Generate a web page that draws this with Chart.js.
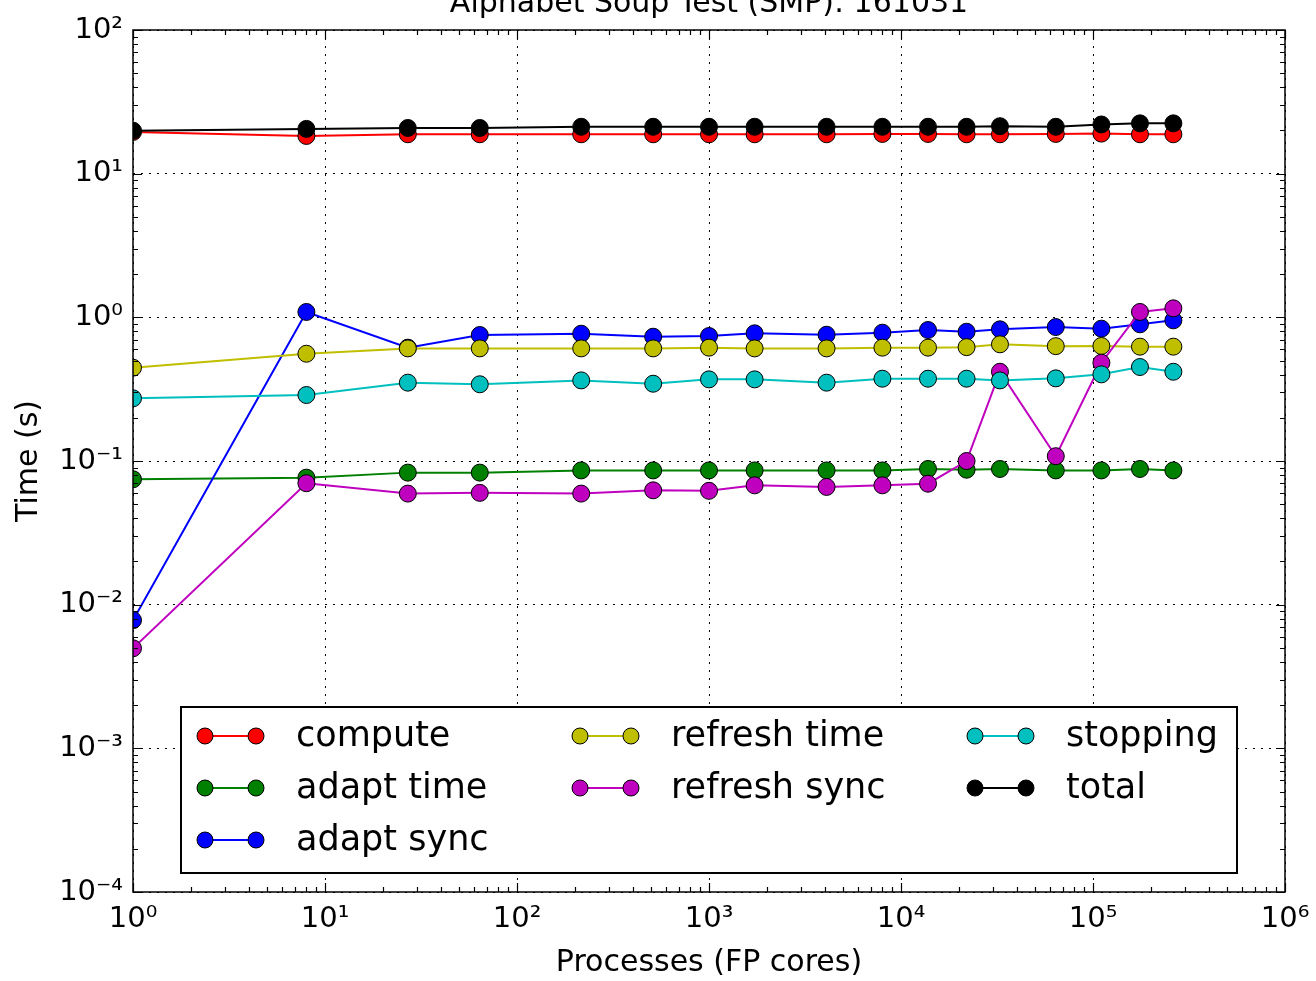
<!DOCTYPE html>
<html>
<head>
<meta charset="utf-8">
<title>Alphabet Soup Test (SMP): 161031</title>
<script src="https://cdn.jsdelivr.net/npm/chart.js@4.4.1/dist/chart.umd.min.js"></script>
<style>
  html, body { margin: 0; padding: 0; background: #ffffff; }
  #wrap { width: 1316px; height: 981px; position: relative; }
  canvas { display: block; }
</style>
</head>
<body>
<div id="wrap"><canvas id="chart" width="1316" height="981"></canvas></div>
<script>
// Process counts (FP cores)
const processes = [1, 8, 27, 64, 216, 512, 1000, 1728, 4096, 8000, 13824, 21952, 32768, 64000, 110592, 175616, 262144];

// Timings in seconds, one list per phase
const compute     = [19.5, 18.3, 18.8, 18.8, 18.8, 18.8, 18.8, 18.8, 18.8, 18.9, 18.9, 18.8, 18.8, 18.9, 19.0, 18.8, 18.8];
const adaptTime   = [0.0746, 0.0766, 0.083, 0.083, 0.086, 0.086, 0.086, 0.086, 0.086, 0.086, 0.088, 0.087, 0.088, 0.086, 0.086, 0.088, 0.086];
const adaptSync   = [0.0078, 1.09, 0.615, 0.753, 0.769, 0.733, 0.741, 0.774, 0.757, 0.782, 0.816, 0.794, 0.825, 0.856, 0.834, 0.894, 0.953];
const refreshTime = [0.446, 0.558, 0.608, 0.608, 0.608, 0.608, 0.615, 0.608, 0.608, 0.615, 0.615, 0.620, 0.649, 0.630, 0.632, 0.625, 0.625];
const refreshSync = [0.00497, 0.070, 0.0593, 0.060, 0.0593, 0.0625, 0.062, 0.0677, 0.066, 0.0677, 0.0695, 0.100, 0.418, 0.108, 0.483, 1.09, 1.155];
const stopping    = [0.273, 0.288, 0.351, 0.342, 0.364, 0.345, 0.370, 0.370, 0.351, 0.374, 0.374, 0.374, 0.364, 0.376, 0.401, 0.451, 0.418];
const total       = [19.9, 20.5, 20.8, 20.8, 21.2, 21.2, 21.2, 21.2, 21.2, 21.2, 21.2, 21.2, 21.4, 21.2, 22.0, 22.4, 22.4];

const seriesNames  = ['compute', 'adapt time', 'adapt sync', 'refresh time', 'refresh sync', 'stopping', 'total'];
const seriesValues = [compute, adaptTime, adaptSync, refreshTime, refreshSync, stopping, total];
const seriesColors = ['#ff0000', '#008000', '#0000ff', '#bfbf00', '#bf00bf', '#00bfbf', '#000000'];

// Axis ticks
const xTickValues = [1, 10, 100, 1000, 10000, 100000, 1000000];
const xTickLabels = ['10⁰', '10¹', '10²', '10³', '10⁴', '10⁵', '10⁶'];
const yTickValues = [0.0001, 0.001, 0.01, 0.1, 1, 10, 100];
const yTickLabels = ['10⁻⁴', '10⁻³', '10⁻²', '10⁻¹', '10⁰', '10¹', '10²'];

const chartTitle = 'Alphabet Soup Test (SMP): 161031';
const xTitle = 'Processes (FP cores)';
const yTitle = 'Time (s)';

const FONT = 'DejaVu Sans';

const datasets = seriesNames.map((name, i) => ({
  label: name,
  data: processes.map((p, j) => ({ x: p, y: seriesValues[i][j] })),
  borderColor: seriesColors[i],
  backgroundColor: seriesColors[i],
  borderWidth: 2,
  pointRadius: 8.5,
  pointHoverRadius: 8.5,
  pointBackgroundColor: seriesColors[i],
  pointBorderColor: '#000000',
  pointBorderWidth: 1,
  tension: 0,
  clip: 0,
  order: seriesNames.length - i
}));

// Frame, inward tick marks, title and the boxed three-column legend
const decorations = {
  id: 'decorations',
  afterDatasetsDraw(chart) {
    const { ctx, chartArea: a, scales } = chart;
    ctx.save();
    ctx.strokeStyle = '#000';
    ctx.lineWidth = 1.2;
    const xs = scales.x, ys = scales.y;
    const drawX = (v, len) => {
      const px = Math.round(xs.getPixelForValue(v)) + 0.5;
      ctx.beginPath();
      ctx.moveTo(px, a.bottom); ctx.lineTo(px, a.bottom - len);
      ctx.moveTo(px, a.top); ctx.lineTo(px, a.top + len);
      ctx.stroke();
    };
    const drawY = (v, len) => {
      const py = Math.round(ys.getPixelForValue(v)) + 0.5;
      ctx.beginPath();
      ctx.moveTo(a.left, py); ctx.lineTo(a.left + len, py);
      ctx.moveTo(a.right, py); ctx.lineTo(a.right - len, py);
      ctx.stroke();
    };
    for (let e = 0; e < 6; e++) {
      for (let m = 2; m <= 9; m++) drawX(m * Math.pow(10, e), 5);
    }
    for (let e = -4; e < 2; e++) {
      for (let m = 2; m <= 9; m++) drawY(m * Math.pow(10, e), 5);
    }
    xTickValues.forEach(v => drawX(v, 9));
    yTickValues.forEach(v => drawY(v, 9));
    ctx.lineWidth = 1.5;
    ctx.strokeRect(a.left, a.top, a.right - a.left, a.bottom - a.top);
    ctx.restore();
  },
  afterDraw(chart) {
    const { ctx, chartArea: a } = chart;
    ctx.save();
    // title, sitting on the very top edge
    ctx.fillStyle = '#000';
    ctx.font = '30px "' + FONT + '"';
    ctx.textAlign = 'center';
    ctx.textBaseline = 'alphabetic';
    ctx.fillText(chartTitle, (a.left + a.right) / 2, 12);

    // legend box
    const box = { x: 181, y: 707, w: 1056, h: 166 };
    ctx.fillStyle = '#fff';
    ctx.fillRect(box.x, box.y, box.w, box.h);
    ctx.strokeStyle = '#000';
    ctx.lineWidth = 2;
    ctx.strokeRect(box.x, box.y, box.w, box.h);

    const colX = [205, 580, 975];
    const rowY = [736, 788, 840];
    const perCol = [3, 2, 2];
    let k = 0;
    ctx.font = '35px "' + FONT + '"';
    ctx.textAlign = 'left';
    ctx.textBaseline = 'middle';
    for (let c = 0; c < 3; c++) {
      for (let r = 0; r < perCol[c]; r++, k++) {
        const ds = chart.data.datasets[k];
        const x0 = colX[c], x1 = colX[c] + 51, y = rowY[r];
        ctx.strokeStyle = ds.borderColor;
        ctx.lineWidth = 2;
        ctx.beginPath(); ctx.moveTo(x0, y); ctx.lineTo(x1, y); ctx.stroke();
        [x0, x1].forEach(px => {
          ctx.beginPath();
          ctx.arc(px, y, 8, 0, Math.PI * 2);
          ctx.fillStyle = ds.pointBackgroundColor;
          ctx.fill();
          ctx.lineWidth = 1;
          ctx.strokeStyle = '#000';
          ctx.stroke();
        });
        ctx.fillStyle = '#000';
        ctx.fillText(ds.label, colX[c] + 91, y + 1);
      }
    }
    ctx.restore();
  }
};

new Chart(document.getElementById('chart'), {
  type: 'line',
  data: { datasets },
  options: {
    responsive: false,
    devicePixelRatio: 1,
    animation: false,
    events: [],
    layout: { padding: { left: 0, right: 31, top: 30, bottom: 0 } },
    plugins: {
      legend: { display: false },
      tooltip: { enabled: false },
      title: { display: false }
    },
    scales: {
      x: {
        type: 'logarithmic',
        position: 'bottom',
        min: 1,
        max: 1000000,
        afterBuildTicks: (scale) => { scale.ticks = xTickValues.map(v => ({ value: v })); },
        afterFit: (scale) => {
          scale.height = 89;
          scale.paddingLeft = 0;
          scale.paddingRight = 0;
        },
        grid: { color: '#000000', lineWidth: 1, drawTicks: false },
        border: { display: false, dash: [2, 6] },
        ticks: {
          autoSkip: false,
          maxRotation: 0,
          padding: 10,
          color: '#000',
          font: { family: FONT, size: 29 },
          callback: (v, i) => xTickLabels[i]
        },
        title: {
          display: true,
          text: xTitle,
          color: '#000',
          font: { family: FONT, size: 30 },
          padding: { top: 0, bottom: 0 }
        }
      },
      y: {
        type: 'logarithmic',
        position: 'left',
        min: 0.0001,
        max: 100,
        afterBuildTicks: (scale) => { scale.ticks = yTickValues.map(v => ({ value: v })); },
        afterFit: (scale) => {
          scale.width = 133;
          scale.paddingTop = 0;
          scale.paddingBottom = 0;
        },
        grid: { color: '#000000', lineWidth: 1, drawTicks: false },
        border: { display: false, dash: [2, 6] },
        ticks: {
          autoSkip: false,
          padding: 10,
          color: '#000',
          font: { family: FONT, size: 29 },
          callback: (v, i) => yTickLabels[i]
        },
        title: {
          display: true,
          text: yTitle,
          color: '#000',
          font: { family: FONT, size: 30 },
          padding: { top: 11, bottom: 0 }
        }
      }
    }
  },
  plugins: [decorations]
});
</script>
</body>
</html>
